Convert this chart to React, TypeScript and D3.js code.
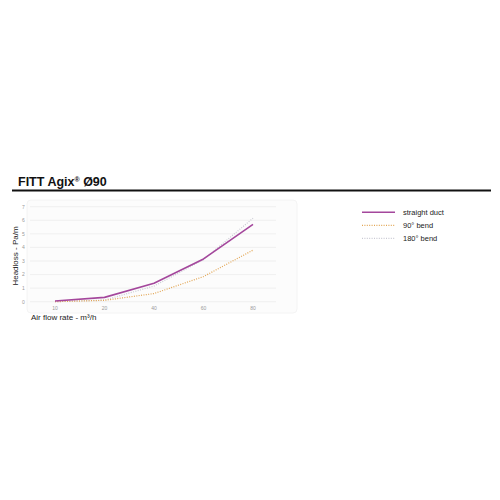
import * as d3 from 'd3';
import { useEffect, useRef } from 'react';

const flowRates = ['10', '20', '40', '60', '80'];
const straightDuct = [0.05, 0.32, 1.36, 3.15, 5.7];
const bend90 = [0.0, 0.1, 0.6, 1.85, 3.8];
const bend180 = [0.0, 0.12, 1.15, 3.1, 6.15];
const yTicks = [0, 1, 2, 3, 4, 5, 6, 7];

const series = [
  { label: 'straight duct', values: straightDuct, color: '#a4479c', width: 1.6, dash: null as string | null },
  { label: '90° bend', values: bend90, color: '#e2a553', width: 1.2, dash: '1 1.4' },
  { label: '180° bend', values: bend180, color: '#c9c9d3', width: 1.2, dash: '1 1.4' },
];

function App() {
  const svgRef = useRef<SVGSVGElement | null>(null);

  useEffect(() => {
    if (!svgRef.current) {
      return;
    }
    const svg = d3.select(svgRef.current);
    svg.selectAll('*').remove();

    const font = '"Liberation Sans", Arial, sans-serif';

    svg.append('rect').attr('width', 500).attr('height', 500).attr('fill', '#ffffff');

    // header
    svg
      .append('text')
      .attr('x', 18)
      .attr('y', 186)
      .attr('font-family', font)
      .attr('font-weight', 'bold')
      .attr('font-size', 12.5)
      .attr('fill', '#111')
      .text('FITT Agix')
      .append('tspan')
      .attr('font-size', 7)
      .attr('dy', -4)
      .text('®')
      .select(function () {
        return this.parentNode as SVGTextElement;
      })
      .append('tspan')
      .attr('dy', 4)
      .text(' Ø90');

    svg
      .append('line')
      .attr('x1', 12)
      .attr('x2', 491)
      .attr('y1', 190.5)
      .attr('y2', 190.5)
      .attr('stroke', '#111')
      .attr('stroke-width', 2);

    // panel
    svg
      .append('rect')
      .attr('x', 27)
      .attr('y', 200)
      .attr('width', 270)
      .attr('height', 113)
      .attr('rx', 4)
      .attr('fill', '#fcfcfc')
      .attr('stroke', '#f1f1f1')
      .attr('stroke-width', 0.8);

    const x = d3.scalePoint<string>().domain(flowRates).range([55, 253]);
    const y = d3.scaleLinear().domain([0, 7]).range([301.7, 206.7]);

    const grid = svg.append('g');
    grid
      .selectAll('line')
      .data(yTicks)
      .join('line')
      .attr('x1', 30)
      .attr('x2', 276)
      .attr('y1', (d) => y(d))
      .attr('y2', (d) => y(d))
      .attr('stroke', '#ececec')
      .attr('stroke-width', 0.8);

    grid
      .selectAll('text')
      .data(yTicks)
      .join('text')
      .attr('x', 23.5)
      .attr('y', (d) => y(d) + 1.8)
      .attr('text-anchor', 'middle')
      .attr('font-family', font)
      .attr('font-size', 5)
      .attr('fill', '#9a9a9a')
      .text((d) => d);

    svg
      .append('g')
      .selectAll('text')
      .data(flowRates)
      .join('text')
      .attr('x', (d) => x(d) ?? 0)
      .attr('y', 309.5)
      .attr('text-anchor', 'middle')
      .attr('font-family', font)
      .attr('font-size', 5)
      .attr('fill', '#9a9a9a')
      .text((d) => d);

    const line = d3
      .line<number>()
      .x((_, i) => x(flowRates[i]) ?? 0)
      .y((d) => y(d));

    const plotOrder = [series[2], series[1], series[0]];
    svg
      .append('g')
      .selectAll('path')
      .data(plotOrder)
      .join('path')
      .attr('fill', 'none')
      .attr('stroke', (s) => s.color)
      .attr('stroke-width', (s) => s.width)
      .attr('stroke-dasharray', (s) => s.dash ?? null)
      .attr('stroke-linejoin', 'round')
      .attr('d', (s) => line(s.values));

    // axis titles
    svg
      .append('text')
      .attr('transform', 'translate(18,256) rotate(-90)')
      .attr('text-anchor', 'middle')
      .attr('font-family', font)
      .attr('font-size', 8)
      .attr('fill', '#222')
      .text('Headloss - Pa/m');

    svg
      .append('text')
      .attr('x', 31)
      .attr('y', 320)
      .attr('font-family', font)
      .attr('font-size', 8)
      .attr('fill', '#222')
      .text('Air flow rate - m³/h');

    // legend
    const legend = svg
      .append('g')
      .selectAll('g')
      .data(series)
      .join('g')
      .attr('transform', (_, i) => `translate(362,${212.3 + i * 13})`);

    legend
      .append('line')
      .attr('x1', 0)
      .attr('x2', 33)
      .attr('stroke', (s) => s.color)
      .attr('stroke-width', (s) => s.width)
      .attr('stroke-dasharray', (s) => s.dash ?? null);

    legend
      .append('text')
      .attr('x', 41)
      .attr('y', 2.8)
      .attr('font-family', font)
      .attr('font-size', 7.5)
      .attr('fill', '#222')
      .text((s) => s.label);
  }, []);

  return (
    <svg
      ref={svgRef}
      width={500}
      height={500}
      style={{ position: 'absolute', left: 0, top: 0 }}
    />
  );
}

export default App;
